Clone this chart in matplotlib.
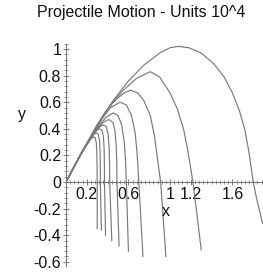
import matplotlib
matplotlib.use('Agg')
import matplotlib.pyplot as plt
from matplotlib.ticker import MultipleLocator, FixedLocator

plt.rcParams['font.family'] = ['Liberation Sans', 'DejaVu Sans']
plt.rcParams['axes.unicode_minus'] = False

# === DATA (units of 10^4) ===
title = "Projectile Motion - Units 10^4"
x_ticks = [0.2, 0.6, 1, 1.2, 1.6]
y_ticks = [-0.6, -0.4, -0.2, 0, 0.2, 0.4, 0.6, 0.8, 1]

traj1_x = [0, 0.15, 0.30, 0.45, 0.60, 0.75, 0.90, 1.00, 1.08, 1.18, 1.30,
           1.42, 1.52, 1.60, 1.67, 1.72, 1.76, 1.80, 1.84, 1.89]
traj1_y = [0, 0.22, 0.43, 0.61, 0.76, 0.88, 0.97, 1.01, 1.02, 1.01, 0.97,
           0.89, 0.79, 0.67, 0.53, 0.39, 0.22, 0.0, -0.15, -0.31]
traj2_x = [0, 0.15, 0.30, 0.42, 0.55, 0.68, 0.81, 0.90, 1.00, 1.07, 1.13,
           1.17, 1.20, 1.22, 1.26, 1.30]
traj2_y = [0, 0.22, 0.43, 0.57, 0.69, 0.78, 0.83, 0.79, 0.67, 0.55, 0.40,
           0.24, 0.10, 0.0, -0.25, -0.51]
traj3_x = [0, 0.15, 0.28, 0.38, 0.48, 0.56, 0.62, 0.69, 0.75, 0.81, 0.85,
           0.88, 0.91, 0.935, 0.96]
traj3_y = [0, 0.22, 0.40, 0.53, 0.62, 0.67, 0.69, 0.67, 0.61, 0.50, 0.35,
           0.17, 0.0, -0.28, -0.56]
traj4_x = [0, 0.15, 0.26, 0.35, 0.43, 0.52, 0.58, 0.63, 0.665, 0.685, 0.70,
           0.72, 0.74]
traj4_y = [0, 0.22, 0.37, 0.48, 0.56, 0.60, 0.58, 0.50, 0.37, 0.20, 0.0,
           -0.28, -0.56]
traj5_x = [0, 0.14, 0.24, 0.32, 0.39, 0.455, 0.50, 0.535, 0.56, 0.573, 0.58,
           0.59, 0.60]
traj5_y = [0, 0.21, 0.34, 0.43, 0.49, 0.52, 0.50, 0.43, 0.30, 0.15, 0.0,
           -0.26, -0.52]
traj6_x = [0, 0.13, 0.22, 0.30, 0.36, 0.41, 0.45, 0.47, 0.482, 0.488, 0.49,
           0.50, 0.51]
traj6_y = [0, 0.19, 0.31, 0.40, 0.45, 0.47, 0.45, 0.39, 0.28, 0.14, 0.0,
           -0.24, -0.48]
traj7_x = [0, 0.12, 0.20, 0.27, 0.32, 0.35, 0.385, 0.405, 0.415, 0.419, 0.42,
           0.43, 0.44]
traj7_y = [0, 0.18, 0.29, 0.37, 0.41, 0.43, 0.42, 0.36, 0.25, 0.12, 0.0,
           -0.22, -0.44]
traj8_x = [0, 0.11, 0.19, 0.25, 0.29, 0.32, 0.345, 0.36, 0.367, 0.369, 0.37,
           0.375, 0.38]
traj8_y = [0, 0.16, 0.27, 0.35, 0.385, 0.40, 0.39, 0.34, 0.24, 0.12, 0.0,
           -0.20, -0.40]
traj9_x = [0, 0.10, 0.17, 0.23, 0.265, 0.29, 0.31, 0.323, 0.328, 0.33, 0.33,
           0.335, 0.34]
traj9_y = [0, 0.15, 0.25, 0.32, 0.355, 0.37, 0.36, 0.31, 0.21, 0.10, 0.0,
           -0.18, -0.36]
traj10_x = [0, 0.10, 0.16, 0.21, 0.24, 0.265, 0.282, 0.292, 0.297, 0.299,
            0.30, 0.30]
traj10_y = [0, 0.15, 0.23, 0.29, 0.325, 0.34, 0.33, 0.29, 0.20, 0.10,
            0.0, -0.35]

trajectories = [(traj1_x, traj1_y), (traj2_x, traj2_y), (traj3_x, traj3_y),
                (traj4_x, traj4_y), (traj5_x, traj5_y), (traj6_x, traj6_y),
                (traj7_x, traj7_y), (traj8_x, traj8_y), (traj9_x, traj9_y),
                (traj10_x, traj10_y)]

# === PLOT ===
fig = plt.figure(figsize=(2.63, 2.72), dpi=100)
ax = fig.add_axes([0.251, 0.0228, 0.749, 0.8165])

for tx, ty in trajectories:
    ax.plot(tx, ty, color='#7a7a7a', lw=0.85)

ax.set_xlim(0, 1.894)
ax.set_ylim(-0.63, 1.04)

# Maple-style axes through the origin
ax.spines['left'].set_position('zero')
ax.spines['bottom'].set_position('zero')
ax.spines['top'].set_visible(False)
ax.spines['right'].set_visible(False)
for sp in ('left', 'bottom'):
    ax.spines[sp].set_color('#777777')
    ax.spines[sp].set_linewidth(0.8)

ax.xaxis.set_major_locator(FixedLocator(x_ticks))
ax.yaxis.set_major_locator(FixedLocator(y_ticks))
ax.set_xticklabels([str(t) for t in x_ticks])
ax.set_yticklabels(['%g' % t for t in y_ticks])
ax.xaxis.set_minor_locator(MultipleLocator(0.04))
ax.yaxis.set_minor_locator(MultipleLocator(0.04))
ax.tick_params(axis='both', which='major', direction='inout', length=4,
               width=0.7, color='#777777', labelsize=11.5, pad=1.5,
               labelcolor='#111111')
ax.tick_params(axis='both', which='minor', direction='inout', length=2.5,
               width=0.6, color='#888888')

fig.text(141 / 263, 1 - 13 / 272, title, ha='center', va='center',
         fontsize=11.5, color='#111111')
fig.text(166 / 263, 1 - 212 / 272, 'x', ha='center', va='center',
         fontsize=11.5, color='#111111')
fig.text(22 / 263, 1 - 115 / 272, 'y', ha='center', va='center',
         fontsize=11.5, color='#111111')

fig.savefig('out.png', dpi=100)
plt.close()
